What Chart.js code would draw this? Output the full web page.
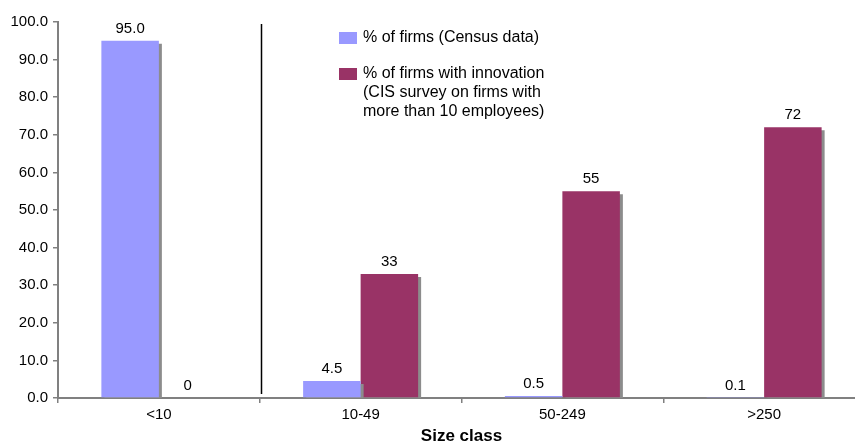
<!DOCTYPE html>
<html>
<head>
<meta charset="utf-8">
<script src="https://cdn.jsdelivr.net/npm/chart.js@4.4.1/dist/chart.umd.min.js"></script>
<style>
  html, body { margin: 0; padding: 0; background: #fff; overflow: hidden; }
  #wrap { width: 855px; height: 447px; overflow: hidden; }
  #wrap canvas { display: block; }
</style>
</head>
<body>
<div id="wrap"><canvas id="sizeChart" width="865" height="447"></canvas></div>
<script>
// Data
const SIZE_CLASSES = ["<10", "10-49", "50-249", ">250"];
const CENSUS_SHARE = [95.0, 4.5, 0.5, 0.1];
const INNOVATION_SHARE = [0, 33, 55, 72];
const Y_TICKS = [0, 10, 20, 30, 40, 50, 60, 70, 80, 90, 100];

const LEGEND_ITEMS = [
  { color: "#9999FF", lines: ["% of firms (Census data)"] },
  {
    color: "#993366",
    lines: [
      "% of firms with innovation",
      "(CIS survey on firms with",
      "more than 10 employees)",
    ],
  },
];

const FONT = "'Liberation Sans', Arial, Helvetica, sans-serif";

// Grey drop shadow behind the bars
const barShadow = {
  id: "barShadow",
  beforeDatasetsDraw(chart) {
    const ctx = chart.ctx;
    ctx.save();
    ctx.shadowColor = "#8c8c8c";
    ctx.shadowOffsetX = 3;
    ctx.shadowOffsetY = 3;
    ctx.shadowBlur = 0;
  },
  afterDatasetsDraw(chart) {
    chart.ctx.restore();
  },
};

// Value labels above each bar
const valueLabels = {
  id: "valueLabels",
  afterDatasetsDraw(chart) {
    const ctx = chart.ctx;
    ctx.save();
    ctx.font = "15px " + FONT;
    ctx.fillStyle = "#000";
    ctx.textAlign = "center";
    ctx.textBaseline = "middle";
    chart.data.datasets.forEach((ds, i) => {
      chart.getDatasetMeta(i).data.forEach((bar, j) => {
        const v = ds.data[j];
        const text = i === 0 ? v.toFixed(1) : String(v);
        ctx.fillText(text, bar.x, bar.y - 12);
      });
    });
    ctx.restore();
  },
};

// Separator after the first size class, and the legend
const extras = {
  id: "extras",
  afterDraw(chart) {
    const ctx = chart.ctx;
    const area = chart.chartArea;
    const x = Math.round(chart.scales.x.getPixelForValue(0.5)) + 1.5;
    ctx.save();
    ctx.strokeStyle = "#000";
    ctx.lineWidth = 1.5;
    ctx.beginPath();
    ctx.moveTo(x, area.top + 2);
    ctx.lineTo(x, area.bottom - 4);
    ctx.stroke();

    ctx.font = "16px " + FONT;
    ctx.textBaseline = "middle";
    ctx.textAlign = "left";
    let y = 38;
    LEGEND_ITEMS.forEach((item) => {
      ctx.fillStyle = item.color;
      ctx.fillRect(339, y - 6, 18, 12);
      ctx.fillStyle = "#000";
      item.lines.forEach((line, k) => {
        ctx.fillText(line, 363, y + k * 19);
      });
      y += 36;
    });
    ctx.restore();
  },
};

new Chart(document.getElementById("sizeChart"), {
  type: "bar",
  data: {
    labels: SIZE_CLASSES,
    datasets: [
      {
        label: "% of firms (Census data)",
        data: CENSUS_SHARE,
        backgroundColor: "#9999FF",
        categoryPercentage: 0.57,
        barPercentage: 1,
      },
      {
        label: "% of firms with innovation",
        data: INNOVATION_SHARE,
        backgroundColor: "#993366",
        categoryPercentage: 0.57,
        barPercentage: 1,
      },
    ],
  },
  options: {
    responsive: false,
    animation: false,
    layout: { padding: { top: 22, right: 0, left: 0, bottom: 0 } },
    plugins: {
      legend: { display: false },
      tooltip: { enabled: false },
    },
    scales: {
      x: {
        afterFit: (scale) => { scale.height = 49; },
        border: { color: "#808080", width: 2 },
        grid: {
          drawOnChartArea: false,
          drawTicks: true,
          tickLength: 5,
          color: "#808080",
          lineWidth: 1.5,
        },
        ticks: {
          color: "#000",
          padding: 3,
          font: { family: FONT, size: 15 },
        },
        title: {
          display: true,
          text: "Size class",
          color: "#000",
          padding: { top: 1, bottom: 0 },
          font: { family: FONT, size: 17, weight: "bold" },
        },
      },
      y: {
        min: Y_TICKS[0],
        max: Y_TICKS[Y_TICKS.length - 1],
        afterFit: (scale) => { scale.width = 58; },
        afterBuildTicks: (scale) => {
          scale.ticks = Y_TICKS.map((v) => ({ value: v }));
        },
        border: { color: "#808080", width: 2 },
        grid: {
          drawOnChartArea: false,
          drawTicks: true,
          tickLength: 5,
          color: "#808080",
          lineWidth: 1.5,
        },
        ticks: {
          color: "#000",
          padding: 5,
          font: { family: FONT, size: 15 },
          callback: (v) => Number(v).toFixed(1),
        },
      },
    },
  },
  plugins: [barShadow, valueLabels, extras],
});
</script>
</body>
</html>
